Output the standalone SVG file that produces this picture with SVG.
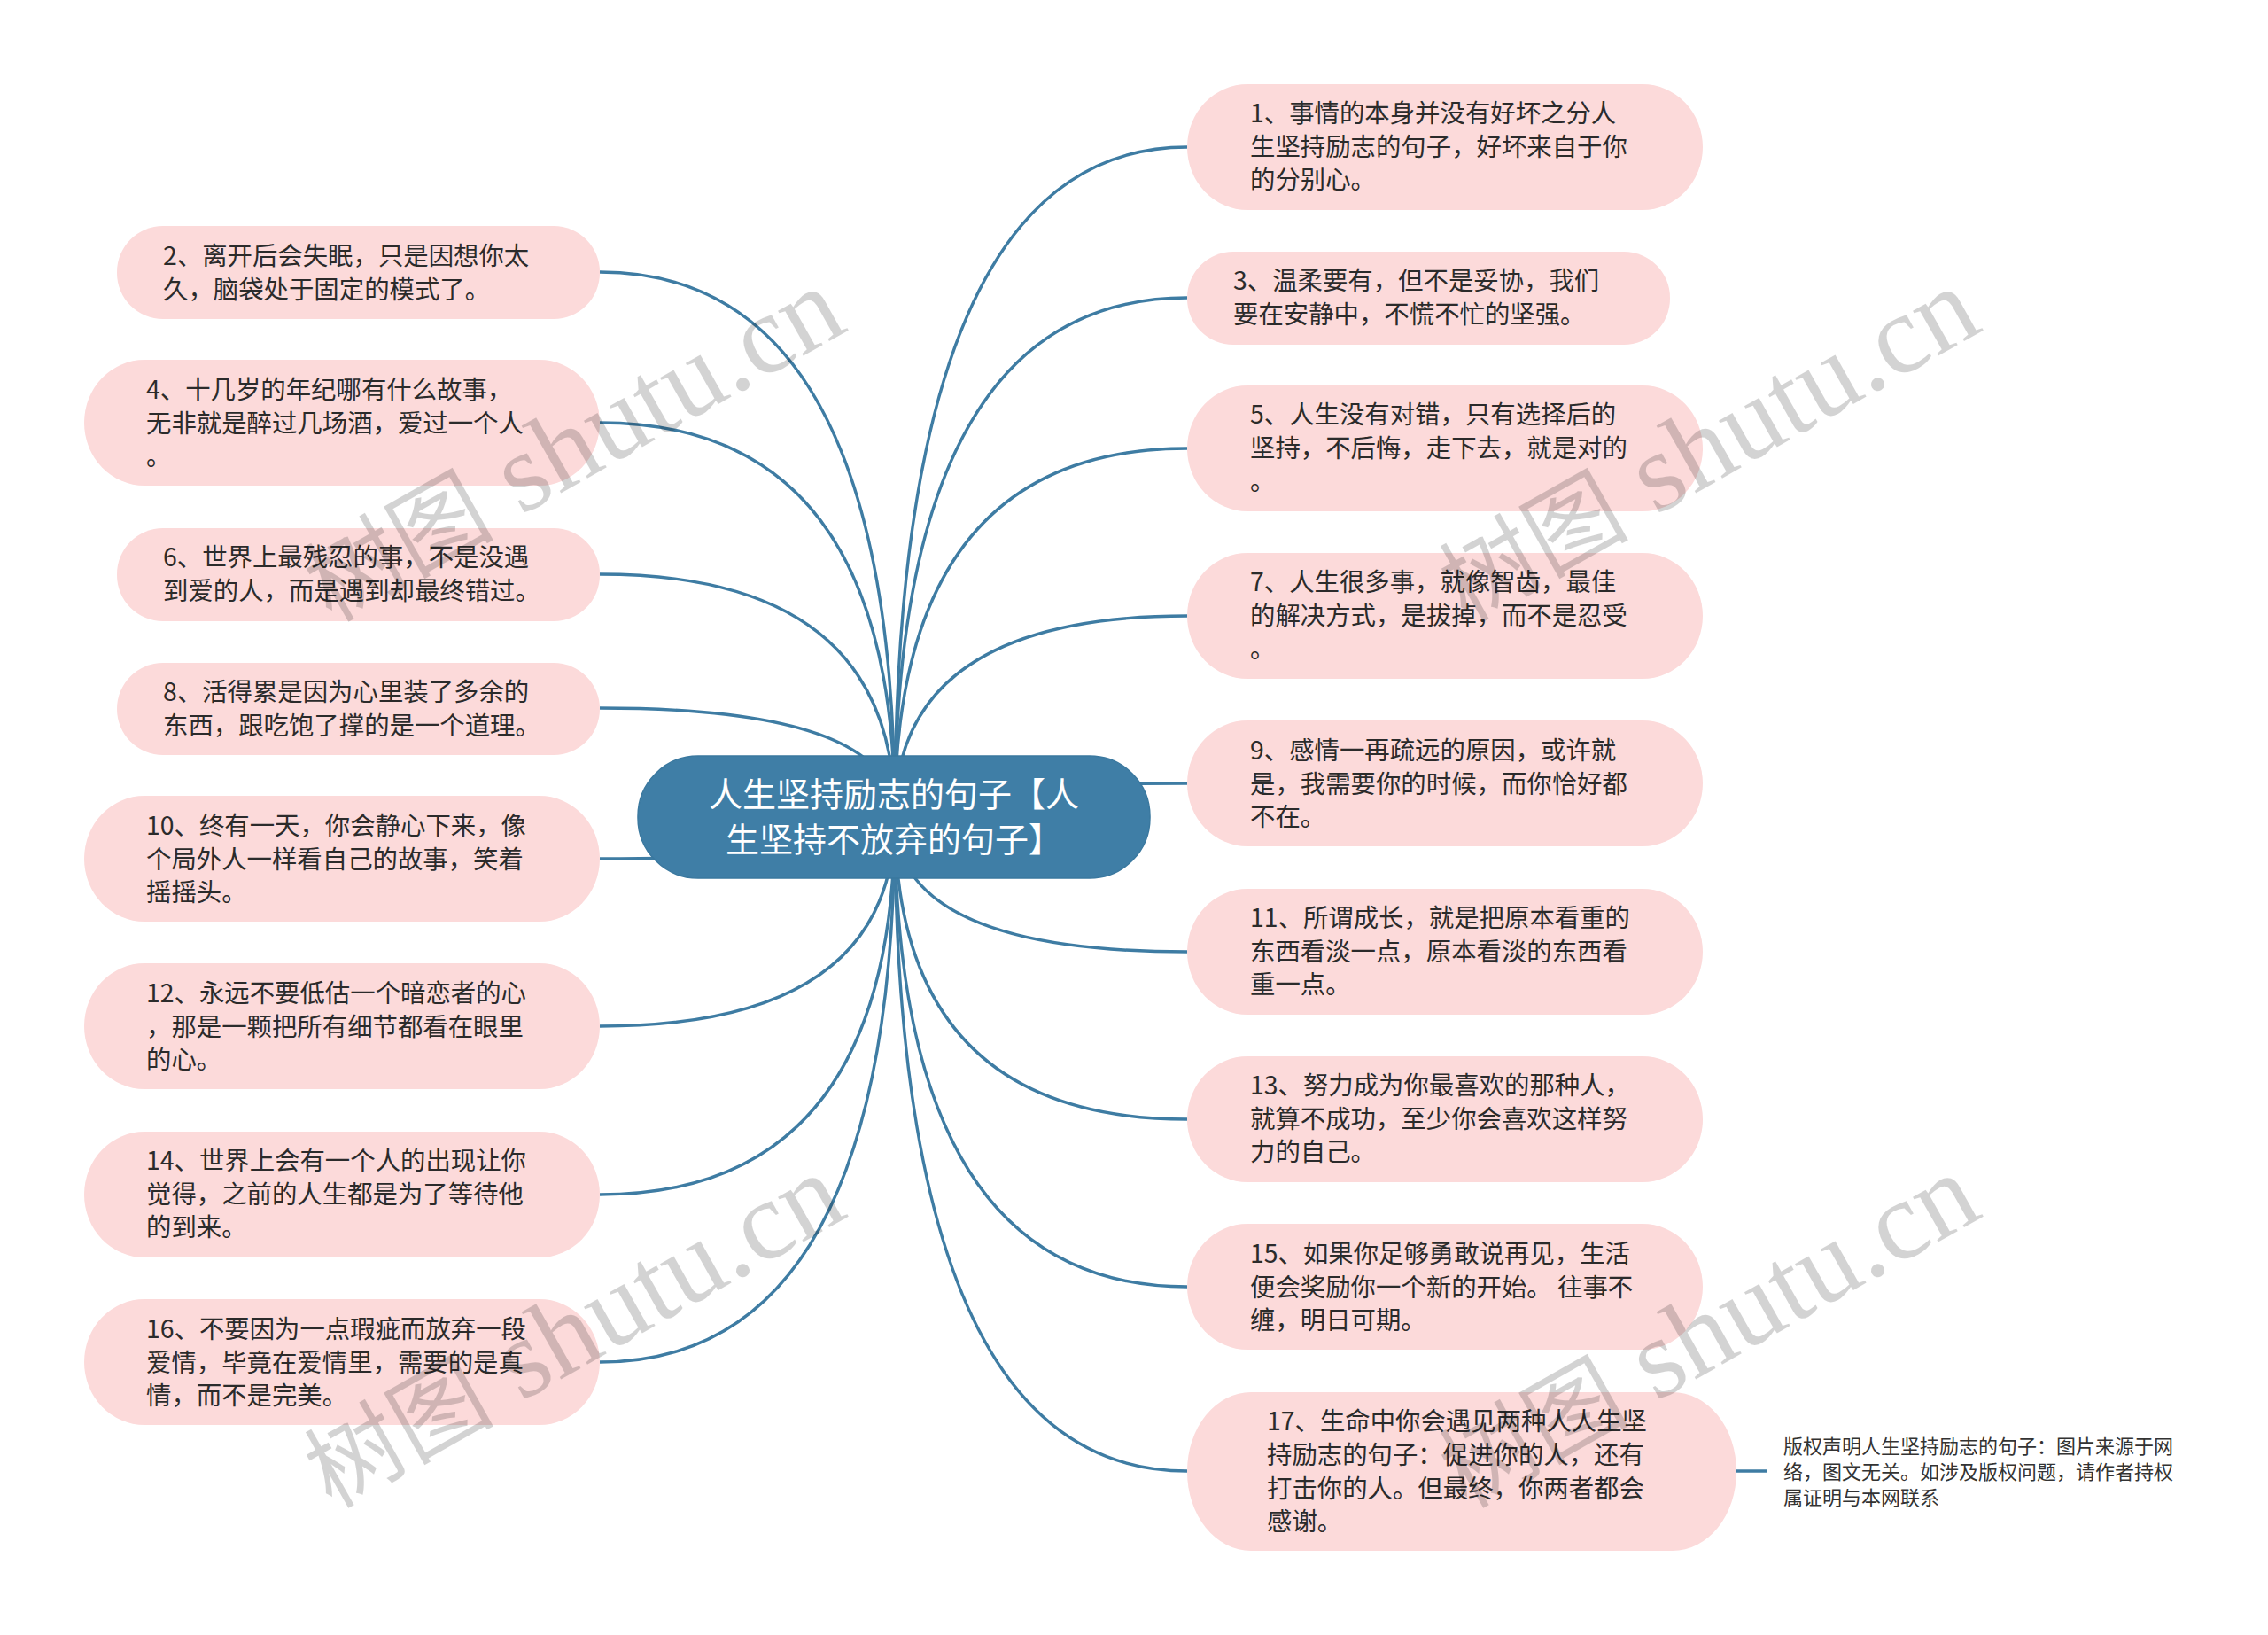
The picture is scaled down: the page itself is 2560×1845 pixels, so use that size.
<svg xmlns="http://www.w3.org/2000/svg" width="2560" height="1845" viewBox="0 0 2560 1845">
<style>
.n{fill:#fcdada}
.t{font-family:"Noto Sans CJK SC","Liberation Sans",sans-serif;font-size:28.4px;fill:#2b2b2b}
.c{fill:none;stroke:#3e7ca3;stroke-width:3.4}
.w{font-family:"Liberation Serif","Noto Sans CJK SC",serif;font-size:127px;fill:#000;opacity:.17}
.wc{font-family:"Noto Sans CJK SC",serif;font-size:107px}
</style>
<rect width="2560" height="1845" fill="#fff"/>
<g id="connectors">
<path class="c" d="M1010 921Q1010 166 1340 166"/>
<path class="c" d="M1010 921Q1010 336 1340 336"/>
<path class="c" d="M1010 921Q1010 506 1340 506"/>
<path class="c" d="M1010 921Q1010 695 1340 695"/>
<path class="c" d="M1010 921Q1010 884 1340 884"/>
<path class="c" d="M1010 921Q1010 1074 1340 1074"/>
<path class="c" d="M1010 921Q1010 1263 1340 1263"/>
<path class="c" d="M1010 921Q1010 1452 1340 1452"/>
<path class="c" d="M1010 921Q1010 1660 1340 1660"/>
<path class="c" d="M1010 921Q1010 307 677 307"/>
<path class="c" d="M1010 921Q1010 477 677 477"/>
<path class="c" d="M1010 921Q1010 648 677 648"/>
<path class="c" d="M1010 921Q1010 799 677 799"/>
<path class="c" d="M1010 921Q1010 969 677 969"/>
<path class="c" d="M1010 921Q1010 1158 677 1158"/>
<path class="c" d="M1010 921Q1010 1348 677 1348"/>
<path class="c" d="M1010 921Q1010 1537 677 1537"/>
<path class="c" d="M1960 1660H1995"/>
</g>
<g id="root">
<rect x="720" y="853" width="578" height="138" rx="68" ry="68" fill="#3f7ea6" stroke="#3a789f" stroke-width="1.5"/>
<text x="800" y="910" font-family="'Noto Sans CJK SC',sans-serif" font-size="38" fill="#fff">人生坚持励志的句子【人</text>
<text x="819" y="961" font-family="'Noto Sans CJK SC',sans-serif" font-size="38" fill="#fff">生坚持不放弃的句子】</text>
</g>
<g id="n1"><rect class="n" x="1340" y="95" width="582" height="142" rx="68" ry="71"/><text class="t"><tspan x="1411" y="138">1、事情的本身并没有好坏之分人</tspan><tspan x="1411" y="176">生坚持励志的句子，好坏来自于你</tspan><tspan x="1411" y="213">的分别心。</tspan></text></g>
<g id="n3"><rect class="n" x="1340" y="284" width="545" height="105" rx="52"/><text class="t"><tspan x="1392" y="327">3、温柔要有，但不是妥协，我们</tspan><tspan x="1392" y="365">要在安静中，不慌不忙的坚强。</tspan></text></g>
<g id="n5"><rect class="n" x="1340" y="435" width="582" height="142" rx="68" ry="71"/><text class="t"><tspan x="1411" y="478">5、人生没有对错，只有选择后的</tspan><tspan x="1411" y="516">坚持，不后悔，走下去，就是对的</tspan><tspan x="1411" y="553">。</tspan></text></g>
<g id="n7"><rect class="n" x="1340" y="624" width="582" height="142" rx="68" ry="71"/><text class="t"><tspan x="1411" y="667">7、人生很多事，就像智齿，最佳</tspan><tspan x="1411" y="705">的解决方式，是拔掉，而不是忍受</tspan><tspan x="1411" y="742">。</tspan></text></g>
<g id="n9"><rect class="n" x="1340" y="813" width="582" height="142" rx="68" ry="71"/><text class="t"><tspan x="1411" y="857">9、感情一再疏远的原因，或许就</tspan><tspan x="1411" y="895">是，我需要你的时候，而你恰好都</tspan><tspan x="1411" y="932">不在。</tspan></text></g>
<g id="n11"><rect class="n" x="1340" y="1003" width="582" height="142" rx="68" ry="71"/><text class="t"><tspan x="1411" y="1046">11、所谓成长，就是把原本看重的</tspan><tspan x="1411" y="1084">东西看淡一点，原本看淡的东西看</tspan><tspan x="1411" y="1121">重一点。</tspan></text></g>
<g id="n13"><rect class="n" x="1340" y="1192" width="582" height="142" rx="68" ry="71"/><text class="t"><tspan x="1411" y="1235">13、努力成为你最喜欢的那种人，</tspan><tspan x="1411" y="1273">就算不成功，至少你会喜欢这样努</tspan><tspan x="1411" y="1310">力的自己。</tspan></text></g>
<g id="n15"><rect class="n" x="1340" y="1381" width="582" height="142" rx="68" ry="71"/><text class="t"><tspan x="1411" y="1425">15、如果你足够勇敢说再见，生活</tspan><tspan x="1411" y="1463">便会奖励你一个新的开始。 往事不</tspan><tspan x="1411" y="1500">缠，明日可期。</tspan></text></g>
<g id="n17"><rect class="n" x="1340" y="1571" width="620" height="179" rx="72" ry="89"/><text class="t"><tspan x="1430" y="1614">17、生命中你会遇见两种人人生坚</tspan><tspan x="1430" y="1652">持励志的句子：促进你的人，还有</tspan><tspan x="1430" y="1690">打击你的人。但最终，你两者都会</tspan><tspan x="1430" y="1727">感谢。</tspan></text></g>
<g id="copyright"><text font-family="'Noto Sans CJK SC',sans-serif" font-size="22" fill="#333"><tspan x="2013" y="1640">版权声明人生坚持励志的句子：图片来源于网</tspan><tspan x="2013" y="1669">络，图文无关。如涉及版权问题，请作者持权</tspan><tspan x="2013" y="1698">属证明与本网联系</tspan></text></g>
<g id="n2"><rect class="n" x="132" y="255" width="545" height="105" rx="52"/><text class="t"><tspan x="184" y="299">2、离开后会失眠，只是因想你太</tspan><tspan x="184" y="337">久，脑袋处于固定的模式了。</tspan></text></g>
<g id="n4"><rect class="n" x="95" y="406" width="582" height="142" rx="68" ry="71"/><text class="t"><tspan x="165" y="450">4、十几岁的年纪哪有什么故事，</tspan><tspan x="165" y="488">无非就是醉过几场酒，爱过一个人</tspan><tspan x="165" y="525">。</tspan></text></g>
<g id="n6"><rect class="n" x="132" y="596" width="545" height="105" rx="52"/><text class="t"><tspan x="184" y="639">6、世界上最残忍的事，不是没遇</tspan><tspan x="184" y="677">到爱的人，而是遇到却最终错过。</tspan></text></g>
<g id="n8"><rect class="n" x="132" y="748" width="545" height="104" rx="52"/><text class="t"><tspan x="184" y="791">8、活得累是因为心里装了多余的</tspan><tspan x="184" y="829">东西，跟吃饱了撑的是一个道理。</tspan></text></g>
<g id="n10"><rect class="n" x="95" y="898" width="582" height="142" rx="68" ry="71"/><text class="t"><tspan x="165" y="942">10、终有一天，你会静心下来，像</tspan><tspan x="165" y="980">个局外人一样看自己的故事，笑着</tspan><tspan x="165" y="1017">摇摇头。</tspan></text></g>
<g id="n12"><rect class="n" x="95" y="1087" width="582" height="142" rx="68" ry="71"/><text class="t"><tspan x="165" y="1131">12、永远不要低估一个暗恋者的心</tspan><tspan x="165" y="1169">，那是一颗把所有细节都看在眼里</tspan><tspan x="165" y="1206">的心。</tspan></text></g>
<g id="n14"><rect class="n" x="95" y="1277" width="582" height="142" rx="68" ry="71"/><text class="t"><tspan x="165" y="1320">14、世界上会有一个人的出现让你</tspan><tspan x="165" y="1358">觉得，之前的人生都是为了等待他</tspan><tspan x="165" y="1395">的到来。</tspan></text></g>
<g id="n16"><rect class="n" x="95" y="1466" width="582" height="142" rx="68" ry="71"/><text class="t"><tspan x="165" y="1510">16、不要因为一点瑕疵而放弃一段</tspan><tspan x="165" y="1548">爱情，毕竟在爱情里，需要的是真</tspan><tspan x="165" y="1585">情，而不是完美。</tspan></text></g>
<g id="watermarks">
<text class="w" transform="translate(374 703) rotate(-29.5)"><tspan class="wc">树图</tspan> shutu.cn</text>
<text class="w" transform="translate(1655 703) rotate(-29.5)"><tspan class="wc">树图</tspan> shutu.cn</text>
<text class="w" transform="translate(374 1703) rotate(-29.5)"><tspan class="wc">树图</tspan> shutu.cn</text>
<text class="w" transform="translate(1655 1703) rotate(-29.5)"><tspan class="wc">树图</tspan> shutu.cn</text>
</g>
</svg>
